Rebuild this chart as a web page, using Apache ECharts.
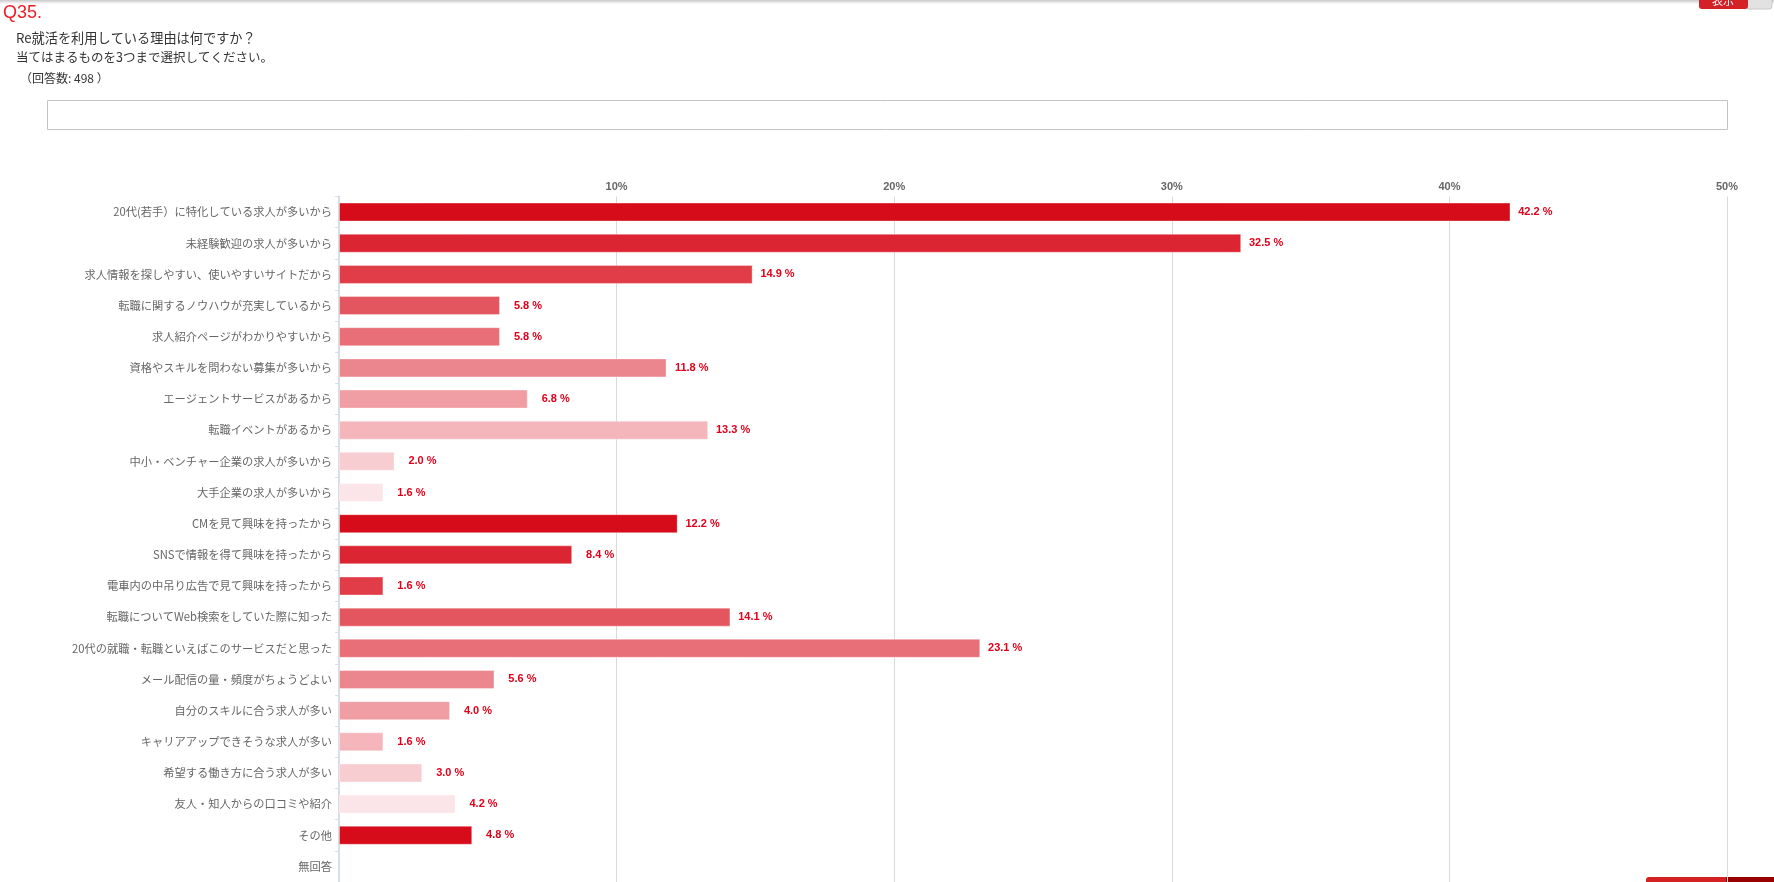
<!DOCTYPE html>
<html>
<head>
<meta charset="utf-8">
<script src="https://cdn.jsdelivr.net/npm/echarts@6/dist/echarts.min.js"></script>
<style>
html,body{margin:0;padding:0;background:#fff;}
#chart{width:1774px;height:882px;}
</style>
</head>
<body>
<div id="chart"></div>
<script>
const questionNo = 'Q35.';
const questionLines = ['Re就活を利用している理由は何ですか？', '当てはまるものを3つまで選択してください。'];
const answerCount = '（回答数: 498 ）';

const categories = [
  '20代(若手）に特化している求人が多いから',
  '未経験歓迎の求人が多いから',
  '求人情報を探しやすい、使いやすいサイトだから',
  '転職に関するノウハウが充実しているから',
  '求人紹介ページがわかりやすいから',
  '資格やスキルを問わない募集が多いから',
  'エージェントサービスがあるから',
  '転職イベントがあるから',
  '中小・ベンチャー企業の求人が多いから',
  '大手企業の求人が多いから',
  'CMを見て興味を持ったから',
  'SNSで情報を得て興味を持ったから',
  '電車内の中吊り広告で見て興味を持ったから',
  '転職についてWeb検索をしていた際に知った',
  '20代の就職・転職といえばこのサービスだと思った',
  'メール配信の量・頻度がちょうどよい',
  '自分のスキルに合う求人が多い',
  'キャリアアップできそうな求人が多い',
  '希望する働き方に合う求人が多い',
  '友人・知人からの口コミや紹介',
  'その他',
  '無回答'
];
const values = [42.2, 32.5, 14.9, 5.8, 5.8, 11.8, 6.8, 13.3, 2.0, 1.6, 12.2, 8.4, 1.6, 14.1, 23.1, 5.6, 4.0, 1.6, 3.0, 4.2, 4.8, null];

const palette = ['#d70c1a', '#dc2532', '#e03d48', '#e4565f', '#e86e77', '#ec868e', '#f09ea4', '#f4b6bb', '#f8cdd2', '#fce5e8'];

const chart = echarts.init(document.getElementById('chart'), null, {renderer: 'canvas'});
const jpFont = '"Noto Sans CJK JP", "Noto Sans", sans-serif';

chart.setOption({
  animation: false,
  backgroundColor: '#fff',
  grid: {left: 339, right: 47, top: 196.5, height: 685.5, containLabel: false},
  xAxis: {
    type: 'value',
    position: 'top',
    min: 0, max: 50, interval: 10,
    axisLine: {show: false},
    axisTick: {show: false},
    axisLabel: {
      margin: 4,
      color: '#666',
      fontWeight: 'bold',
      fontSize: 11,
      fontFamily: 'Arial, "Liberation Sans", sans-serif',
      formatter: v => v === 0 ? '' : v + '%'
    },
    splitLine: {show: true, lineStyle: {color: '#d9d9d9', width: 1}}
  },
  yAxis: {
    type: 'category',
    inverse: true,
    data: categories,
    axisLine: {show: true, lineStyle: {color: '#d8dde6', width: 2}},
    axisTick: {show: true, length: 4, lineStyle: {color: '#d8dde6'}},
    axisLabel: {margin: 7, color: '#666', fontSize: 11.25, fontFamily: jpFont}
  },
  series: [{
    type: 'bar',
    data: values,
    barWidth: 19,
    itemStyle: {
      color: p => palette[p.dataIndex % palette.length],
      borderColor: 'rgba(255,255,255,0.35)',
      borderWidth: 1
    },
    label: {
      show: true,
      position: 'right',
      distance: 42,
      align: 'right',
      color: '#e0001a',
      fontWeight: 'bold',
      fontSize: 11,
      fontFamily: 'Arial, "Liberation Sans", sans-serif',
      formatter: p => (p.value == null ? '' : p.value.toFixed(1) + ' %')
    }
  }],
  graphic: [
    {type: 'rect', left: 0, top: 0, shape: {width: 1774, height: 4}, silent: true,
      style: {fill: new echarts.graphic.LinearGradient(0, 0, 0, 1, [{offset: 0, color: '#c8c8c8'}, {offset: 1, color: '#ffffff'}])}},
    {type: 'text', left: 3, top: 4, silent: true,
      style: {text: questionNo, fill: '#ee1c25', font: '18px Arial, "Liberation Sans", sans-serif'}},
    {type: 'text', x: 16, y: 37.5, silent: true,
      style: {text: questionLines[0], fill: '#333', fontSize: 13.2, fontFamily: jpFont, verticalAlign: 'middle'}},
    {type: 'text', x: 16, y: 57, silent: true,
      style: {text: questionLines[1], fill: '#333', fontSize: 12.5, fontFamily: jpFont, verticalAlign: 'middle'}},
    {type: 'text', x: 20, y: 78.5, silent: true,
      style: {text: answerCount, fill: '#333', fontSize: 12, fontFamily: jpFont, verticalAlign: 'middle'}},
    {type: 'rect', silent: true, shape: {x: 47.5, y: 100.5, width: 1680, height: 29},
      style: {fill: '#fff', stroke: '#c4c4c4', lineWidth: 1}},
    {type: 'rect', silent: true, shape: {x: 1746, y: -4, width: 26, height: 13, r: 3},
      style: {fill: '#e2e2e2', stroke: '#c8c8c8', lineWidth: 1}},
    {type: 'rect', silent: true, shape: {x: 1699, y: -4, width: 49, height: 13, r: 3},
      style: {fill: '#d42027'}},
    {type: 'text', x: 1723, y: 1, silent: true,
      style: {text: '表示', fill: '#fff', fontSize: 11, fontFamily: jpFont, align: 'center', verticalAlign: 'middle'}},
    {type: 'rect', silent: true, shape: {x: 1646, y: 877, width: 82, height: 10, r: [3, 0, 0, 0]},
      style: {fill: '#d42222'}},
    {type: 'rect', silent: true, shape: {x: 1726, y: 877, width: 48, height: 10},
      style: {fill: '#990000'}}
  ]
});
</script>
</body>
</html>
